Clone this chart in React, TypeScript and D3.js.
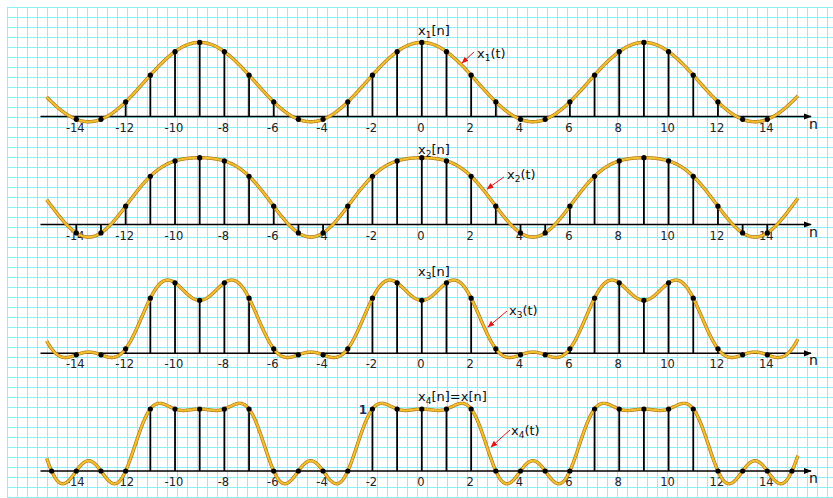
import React from "react";
import * as d3 from "d3";

// Fourier coefficients a_k of the periodic pulse (period 9), k = 0..4
const coeffs = [0.5556, 0.3199, -0.0591, -0.1111, 0.0725];
const period = 9;
// number of harmonics used in each panel
const harmonicsPerPanel = [1, 2, 3, 4];
// sample index range per panel
const sampleFrom = [-14, -14, -14, -15];
const sampleTo = [14, 14, 14, 15];
const tickValues = [-14, -12, -10, -8, -6, -4, -2, 0, 2, 4, 6, 8, 10, 12, 14];
const seqSub = ["1", "2", "3", "4"];
const seqSuffix = ["", "", "", "=x[n]"];

const W = 833;
const H = 498;
const axisYs = [116.5, 224.5, 353.3, 471];
const unitPx = 62;
const tMin = -15.2;
const tMax = 15.25;

const seqLabelPos = [
  { x: 418, y: 35 },
  { x: 418, y: 154 },
  { x: 418, y: 276 },
  { x: 418, y: 401 },
];
const fnLabelPos = [
  { x: 477, y: 58, ax0: 474, ay0: 52, ax1: 462, ay1: 63 },
  { x: 507, y: 179, ax0: 504, ay0: 177, ax1: 487, ay1: 189 },
  { x: 509, y: 315, ax0: 507, ay0: 311, ax1: 488, ay1: 327 },
  { x: 511, y: 435, ax0: 510, ay0: 430, ax1: 491, ay1: 447 },
];

function partialSum(t: number, K: number) {
  let s = coeffs[0];
  for (let k = 1; k <= K; k++) s += 2 * coeffs[k] * Math.cos((2 * Math.PI * k * t) / period);
  return s;
}

export default function App() {
  const x = d3.scaleLinear().domain([-14, 14]).range([76.3, 767.3]);
  const gridX = d3.range(7.5, W, 10);
  const gridY = d3.range(7.5, H, 10);
  const ts = d3.range(tMin, tMax + 0.001, 0.02);
  const font = "DejaVu Sans, Verdana, sans-serif";

  return (
    <svg width={W} height={H} style={{ position: "absolute", left: 0, top: 0, background: "#fff" }}>
      <defs>
        <marker id="axArrow" viewBox="0 0 10 10" refX="9" refY="5" markerWidth="8" markerHeight="8" markerUnits="userSpaceOnUse" orient="auto">
          <path d="M0,1 L10,5 L0,9 Z" fill="#000" />
        </marker>
        <marker id="redArrow" viewBox="0 0 10 10" refX="9" refY="5" markerWidth="7" markerHeight="7" markerUnits="userSpaceOnUse" orient="auto">
          <path d="M0,1 L10,5 L0,9 Z" fill="#e01818" />
        </marker>
      </defs>
      <g>
        {gridX.map((gx) => (
          <line key={"gx" + gx} x1={gx} x2={gx} y1={7} y2={H} stroke="#8cf0f8" strokeWidth={1} />
        ))}
        {gridY.map((gy) => (
          <line key={"gy" + gy} x1={7} x2={W} y1={gy} y2={gy} stroke="#8cf0f8" strokeWidth={1} />
        ))}
      </g>
      {harmonicsPerPanel.map((K, p) => {
        const y = d3.scaleLinear().domain([0, 1]).range([axisYs[p], axisYs[p] - unitPx]);
        const line = d3
          .line<number>()
          .x((t) => x(t))
          .y((t) => y(partialSum(t, K)));
        const ns = d3.range(sampleFrom[p], sampleTo[p] + 1);
        const lp = seqLabelPos[p];
        const fp = fnLabelPos[p];
        return (
          <g key={p}>
            <line x1={40.5} x2={811} y1={y(0)} y2={y(0)} stroke="#000" strokeWidth={1.6} markerEnd="url(#axArrow)" />
            <text x={809} y={y(0) + 12} fontFamily={font} fontSize={14} fill="#111">n</text>
            {tickValues.map((v) => (
              <text key={v} x={x(v) - 1} y={y(0) + 15} textAnchor="middle" fontFamily={font} fontSize={11.5} fill="#222">
                {v}
              </text>
            ))}
            {ns.map((n) => (
              <line key={"s" + n} x1={x(n)} x2={x(n)} y1={y(0)} y2={y(partialSum(n, K))} stroke="#000" strokeWidth={1.8} />
            ))}
            <path d={line(ts) || ""} fill="none" stroke="#a87514" strokeWidth={3.4} strokeLinejoin="round" />
            <path d={line(ts) || ""} fill="none" stroke="#f4c030" strokeWidth={2.1} strokeLinejoin="round" />
            {ns.map((n) => (
              <circle key={"d" + n} cx={x(n)} cy={y(partialSum(n, K))} r={2.6} fill="#000" />
            ))}
            <text x={lp.x} y={lp.y} fontFamily={font} fontSize={13} fill="#111">
              x<tspan fontSize={9} dy={3}>{seqSub[p]}</tspan>
              <tspan dy={-3}>[n]{seqSuffix[p]}</tspan>
            </text>
            <text x={fp.x} y={fp.y} fontFamily={font} fontSize={13} fill="#111">
              x<tspan fontSize={9} dy={3}>{seqSub[p]}</tspan>
              <tspan dy={-3}>(t)</tspan>
            </text>
            <line x1={fp.ax0} y1={fp.ay0} x2={fp.ax1} y2={fp.ay1} stroke="#e01818" strokeWidth={1} markerEnd="url(#redArrow)" />
          </g>
        );
      })}
      <text x={363} y={414} textAnchor="middle" fontFamily={font} fontSize={12} fontWeight="bold" fill="#1c2a55">1</text>
    </svg>
  );
}
